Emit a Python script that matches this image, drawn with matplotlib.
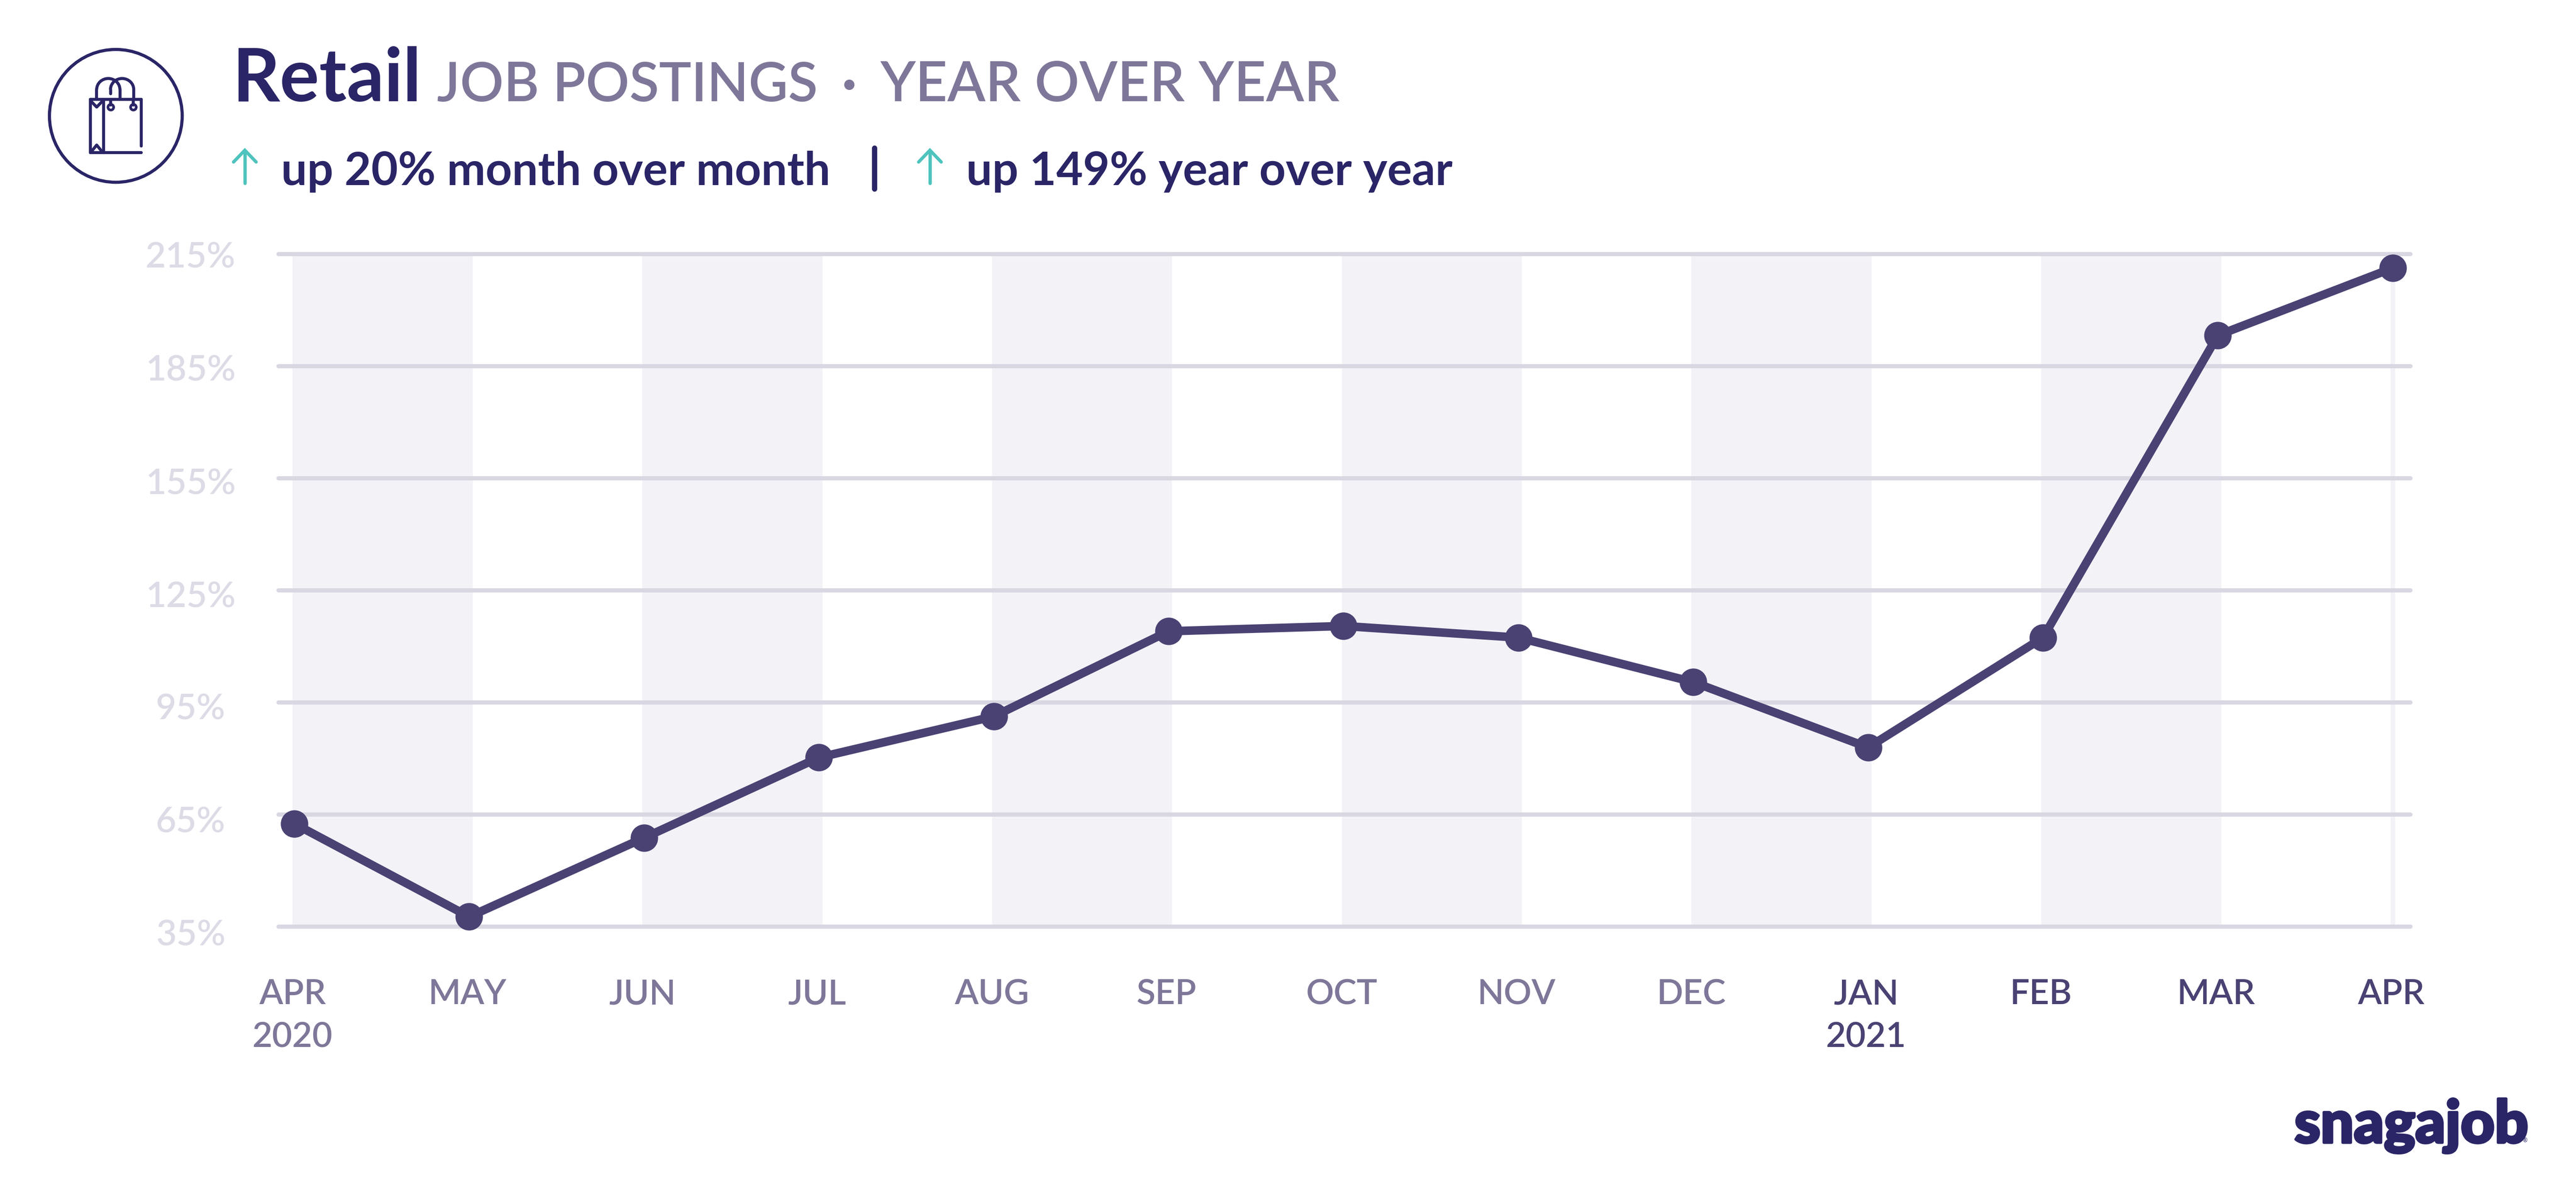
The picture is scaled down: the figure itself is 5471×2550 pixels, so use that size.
import matplotlib
matplotlib.use('Agg')
import matplotlib.pyplot as plt
import matplotlib.patheffects as pe
from matplotlib.patches import Circle, Arc
from matplotlib.transforms import ScaledTranslation
import numpy as np

months = ['APR\n2020', 'MAY', 'JUN', 'JUL', 'AUG', 'SEP', 'OCT', 'NOV', 'DEC',
          'JAN\n2021', 'FEB', 'MAR', 'APR']
postings = [62.5, 37.6, 58.7, 80.2, 91.2, 114.0, 115.4, 112.3, 100.4, 82.9, 112.3, 193.2, 211.2]
y_ticks = [35, 65, 95, 125, 155, 185, 215]
y_labels = ['35%', '65%', '95%', '125%', '155%', '185%', '215%']

W, H = 5471, 2550
NAVY = '#2a2566'
LINE = '#4a4273'
GREY = '#7f7799'
PALE = '#dddbe6'
GRID = '#d9d7e2'
BAND = '#f2f2f7'
TEAL = '#4fc3bd'

plt.rcParams['font.family'] = ['Lato', 'DejaVu Sans']

fig = plt.figure(figsize=(W / 100, H / 100), dpi=100, facecolor='white')

# plot area in pixels: left/right of the grid lines, top/bottom of 215/35
left, right, top, bottom = 591, 5119, 539, 1967
ax = fig.add_axes([left / W, 1 - bottom / H, (right - left) / W, (bottom - top) / H])
x0, dx = 625, 371.4
ax.set_xlim((left - x0) / dx, (right - x0) / dx)
ax.set_ylim(35, 215)
for s in ax.spines.values():
    s.set_visible(False)

# every other month gets a shaded band
for i in range(0, 12, 2):
    ax.axvspan(i - 0.01, i + 1.02, color=BAND, lw=0, zorder=0)
ax.axvline(12, color=BAND, lw=7, zorder=0)

ax.set_yticks(y_ticks)
ax.set_yticklabels(y_labels, fontsize=54, fontweight='semibold', color=PALE, va='baseline', ha='center')
ax.set_xticks(range(len(months)))
ax.set_xticklabels(months, fontsize=53, fontweight='semibold', linespacing=1.45)
ax.tick_params(length=0)
ax.tick_params(axis='y', pad=134)
ax.tick_params(axis='x', pad=80)
ax.grid(axis='y', color=GRID, lw=6.4, zorder=1)
for gl in ax.get_ygridlines():
    gl.set_solid_capstyle('round')
    gl.set_clip_on(False)
ax.set_axisbelow(True)

# year labels sit a bit below their grid line
for lab, off in zip(ax.get_yticklabels(), [40, 39, 37, 36, 34, 32, 30]):
    lab.set_transform(lab.get_transform() + ScaledTranslation(0, -off / 100, fig.dpi_scale_trans))
for i, lab in enumerate(ax.get_xticklabels()):
    lab.set_color(LINE if i >= 9 else GREY)
    lab.set_transform(lab.get_transform() + ScaledTranslation(-0.04, 0, fig.dpi_scale_trans))

ax.plot(range(len(postings)), postings, color=LINE, lw=13, marker='o', ms=41,
        clip_on=False, zorder=5, solid_joinstyle='round')

# overlay in image pixels for the header, icon and logo
ov = fig.add_axes([0, 0, 1, 1], facecolor='none')
ov.set_xlim(0, W)
ov.set_ylim(H, 0)
ov.axis('off')

ov.text(493, 215, 'Retail', fontsize=113, fontweight='bold', color=NAVY, va='baseline')
ov.text(928, 215, 'JOB POSTINGS', fontsize=83, fontweight='semibold', color=GREY, va='baseline')
ov.text(1804, 215, '·', fontsize=83, fontweight='bold', color=GREY, va='baseline', ha='center')
ov.text(1869, 215, 'YEAR OVER YEAR', fontsize=85, fontweight='semibold', color=GREY, va='baseline')
ov.text(597, 393, 'up 20% month over month', fontsize=70.5, fontweight='bold', color=NAVY, va='baseline')
ov.text(2052, 393, 'up 149% year over year', fontsize=70.5, fontweight='bold', color=NAVY, va='baseline')
ov.plot([1857, 1857], [314, 401], color=NAVY, lw=8, solid_capstyle='round')

for ax_x in [520, 1975]:
    ov.plot([ax_x, ax_x], [320, 389], color=TEAL, lw=5, solid_capstyle='round')
    ov.plot([ax_x - 24, ax_x, ax_x + 24], [344, 319, 344], color=TEAL, lw=5,
            solid_capstyle='round', solid_joinstyle='miter')

# shopping bag icon
def px(v):
    return np.array(v) / 3 + 80

icon_lw = 4.6
ov.add_patch(Circle((246, 246), 141, fill=False, ec=NAVY, lw=4.8))
bag = [
    ([660, 660], [690, 392]), ([660, 336], [392, 392]), ([336, 336], [392, 732]),
    ([336, 660], [732, 732]), ([420, 420], [392, 732]),
    ([340, 376, 412], [405, 442, 405]), ([340, 376, 412], [728, 684, 728]),
    ([466, 466], [392, 430]), ([610, 610], [392, 430]),
    ([376, 376], [392, 330]), ([524, 524], [392, 330]),
    ([612, 612], [392, 330]), ([466, 466], [356, 330]),
]
for xs, ys in bag:
    ov.plot(px(xs), px(ys), color=NAVY, lw=icon_lw, solid_capstyle='round', solid_joinstyle='round')
for cx, w in [(450, 148), (538, 148)]:
    ov.add_patch(Arc((px(cx), px(330)), w / 3, 140 / 3, theta1=180, theta2=360, color=NAVY, lw=icon_lw))
for cx in [466, 610]:
    ov.add_patch(Circle((px(cx), px(443)), 6, fill=False, ec=NAVY, lw=4))

# logo
ov.text(4873, 2426, 'snagajob', fontsize=90, fontweight='black', color=NAVY, va='baseline',
        path_effects=[pe.withStroke(linewidth=4, foreground=NAVY)])
ov.text(5363, 2425, '®', fontsize=9, color=NAVY, va='baseline', ha='center')

plt.savefig('out.png', dpi=100)
